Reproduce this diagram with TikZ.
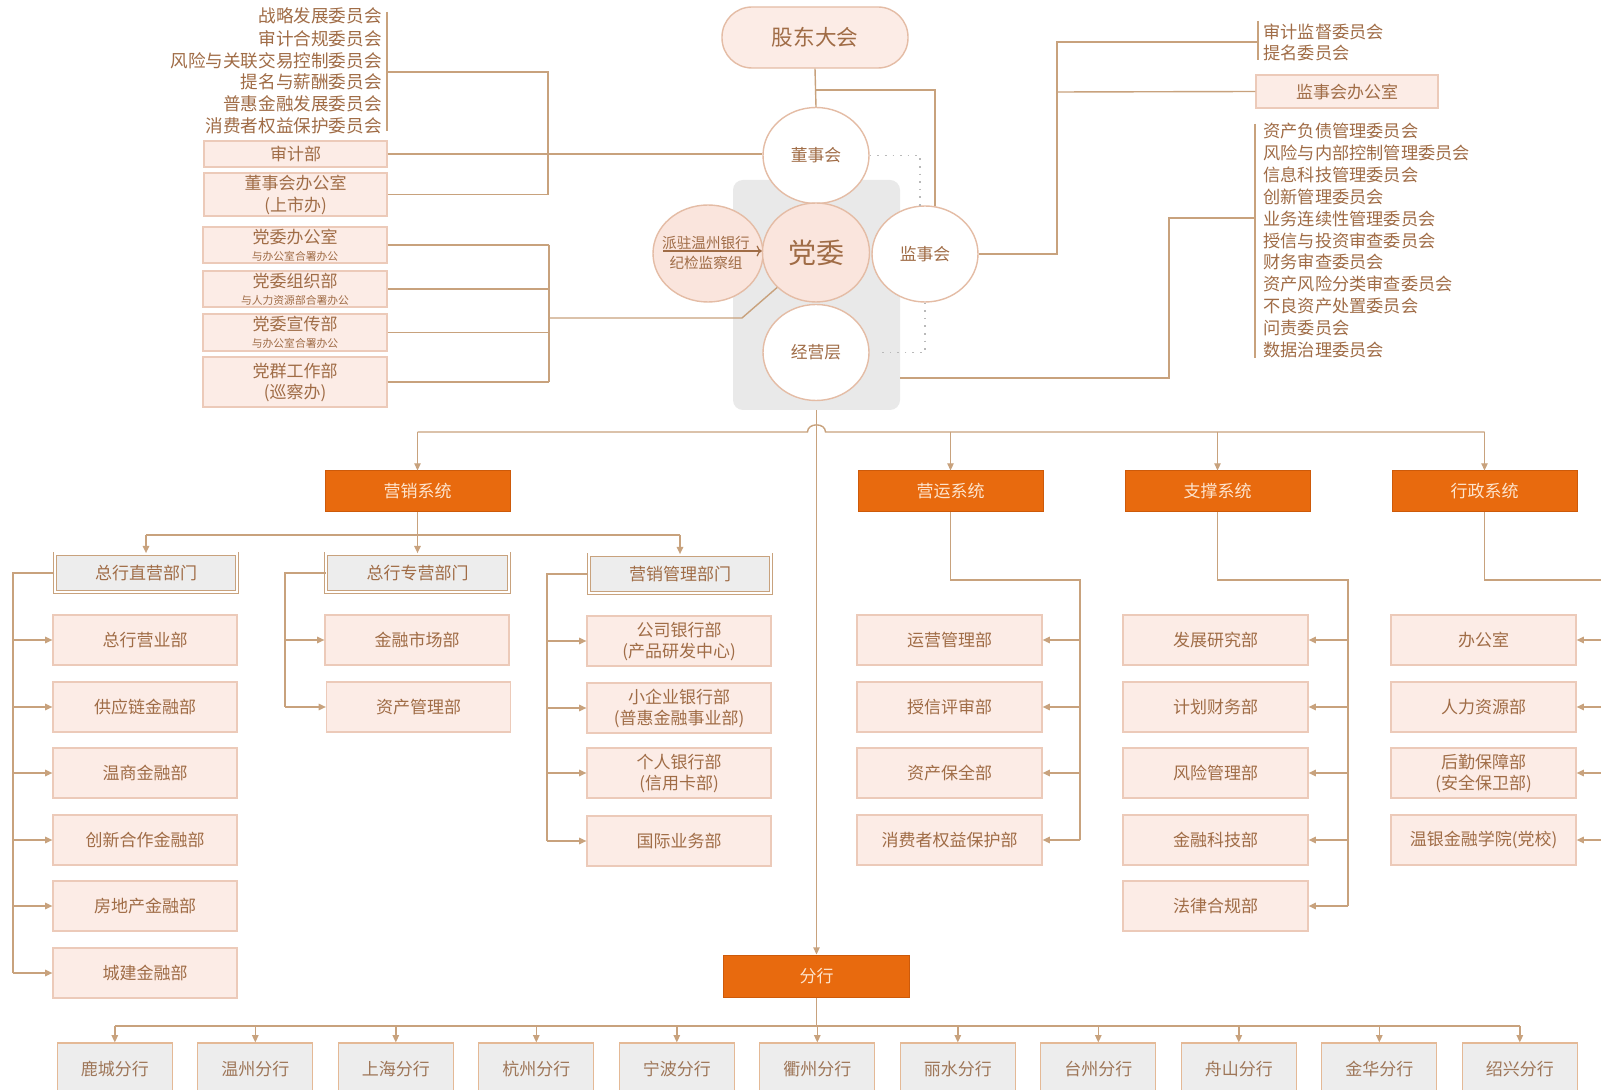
\documentclass[tikz,border=0pt]{standalone}
\usepackage{fontspec}
\setmainfont{Noto Sans CJK SC}
\usetikzlibrary{shapes.geometric,arrows.meta}
\definecolor{lineC}{RGB}{200,162,125}
\definecolor{txtC}{RGB}{160,108,70}
\definecolor{boxF}{RGB}{252,236,230}
\definecolor{boxB}{RGB}{236,202,185}
\definecolor{pinkF}{RGB}{250,229,221}
\definecolor{cirB}{RGB}{228,188,165}
\definecolor{grayR}{RGB}{233,233,233}
\definecolor{grayF}{RGB}{237,237,237}
\definecolor{orgF}{RGB}{232,106,14}
\definecolor{orgD}{RGB}{205,90,10}
\definecolor{orgT}{RGB}{253,228,205}
\definecolor{dotC}{RGB}{185,185,185}
\definecolor{brT}{RGB}{158,118,88}
\definecolor{brB}{RGB}{228,185,150}
\newcommand\fz[2]{\fontsize{#1pt}{#2pt}\selectfont}
\begin{document}
\begin{tikzpicture}[x=0.5pt,y=-0.5pt,
 ln/.style={draw=lineC,line width=0.7pt},
 arr/.style={ln,-{Triangle[length=3.6pt,width=3.2pt]}},
 dotl/.style={draw=dotC,line width=0.8pt,dash pattern=on 0.8pt off 3pt},
 ltxt/.style={inner sep=0pt,text=txtC,font=\fz{8.8}{10},anchor=east},
 rtxt/.style={inner sep=0pt,text=txtC,font=\fz{8.6}{10},anchor=west},
 pbox/.style={rectangle,draw=boxB,fill=boxF,line width=0.6pt,text=txtC,align=center,inner sep=0pt,font=\fz{8.5}{10.5},minimum width=92pt},
 circ/.style={ellipse,draw=cirB,fill=white,line width=0.7pt,inner sep=0pt,text=txtC,minimum width=53pt,minimum height=48pt,font=\fz{8.4}{10},align=center},
 sysb/.style={rectangle,fill=orgF,draw=orgD,line width=0.5pt,text=orgT,inner sep=0pt,minimum width=92.5pt,minimum height=20.5pt,font=\fz{8.5}{10}},
 catb/.style={rectangle,draw=lineC,line width=0.45pt,double=white,double distance=1.1pt,fill=grayF,text=txtC,inner sep=0pt,minimum width=91.2pt,minimum height=19.4pt,font=\fz{8.5}{10}},
 brbox/.style={rectangle,draw=brB,fill=grayF,line width=0.6pt,text=brT,inner sep=0pt,minimum width=57.5pt,minimum height=26pt,font=\fz{8.5}{10}},
]
\path[use as bounding box] (0,0) rectangle (1601,1090);
\fill[white] (0,0) rectangle (1601,1090);
\begin{scope}
\clip (0,0) rectangle (1601,1090);

% ---------- top-left committees ----------
\foreach \t/\y [count=\i] in {战略发展委员会/16,审计合规委员会/39,风险与关联交易控制委员会/61,提名与薪酬委员会/82,普惠金融发展委员会/104,消费者权益保护委员会/126}
  \node[ltxt] (lc\i) at (382,\y) {\t};
\coordinate (lbT) at (387,12);
\coordinate (lbB) at (387,131);
\coordinate (lbM) at (387,72);
\draw[ln] (lbT) -- (lbB);

\node[pbox,minimum width=91.5pt,minimum height=13pt] (sjb) at (295.5,154) {审计部};
\node[pbox,minimum width=91.5pt,minimum height=21.5pt,font=\fz{8.5}{11}] (dsbgs) at (295.5,194.5) {董事会办公室\\(上市办)};

\node[pbox,minimum height=18pt] (dw1) at (295,245) {党委办公室\\[-2pt]{\fz{5.4}{6}与办公室合署办公}};
\node[pbox,minimum height=18pt] (dw2) at (295,289) {党委组织部\\[-2pt]{\fz{5.4}{6}与人力资源部合署办公}};
\node[pbox,minimum height=18.5pt] (dw3) at (295,332.5) {党委宣传部\\[-2pt]{\fz{5.4}{6}与办公室合署办公}};
\node[pbox,minimum height=25pt] (dw4) at (295,382) {党群工作部\\(巡察办)};

% ---------- centre ----------
\node[rectangle,rounded corners=5pt,fill=grayR,minimum width=83.5pt,minimum height=115pt,inner sep=0pt] (grp) at (816.5,295) {};
\node[rectangle,rounded corners=15pt,draw=cirB,fill=boxF,line width=0.7pt,minimum width=93pt,minimum height=30.5pt,font=\fz{10.8}{12},text=txtC,inner sep=0pt] (gd) at (815,37.5) {股东大会};
\node[circ] (dsh) at (816,155.5) {董事会};
\node[circ,fill=pinkF,minimum width=55pt,minimum height=48.5pt] (pz) at (708,253.5) {};
\node[inner sep=0pt,text=txtC,font=\fz{7.3}{10},align=center] (pzt) at (706,252.5) {派驻温州银行\\纪检监察组};
\node[circ,fill=pinkF,minimum width=53.5pt,minimum height=49.5pt,font=\fz{14}{16}] (dw) at (816,252.5) {党委};
\node[circ] (jsh) at (925,254) {监事会};
\node[circ] (jyc) at (816,352.5) {经营层};

\coordinate (pzA) at (663,251);
\draw[draw=txtC,line width=0.6pt,-{To[length=2.6pt]}] (pzA) -- (pzA -| dw.west);

% ---------- right committees ----------
\coordinate (rbT) at (1258,21);
\coordinate (rbB) at (1258,60);
\coordinate (rbM) at (1258,42);
\draw[ln] (rbT) -- (rbB);
\node[rtxt] (rc1) at (1263,32) {审计监督委员会};
\node[rtxt] (rc2) at (1263,53) {提名委员会};
\node[pbox,minimum width=91pt,minimum height=16.5pt] (jsbgs) at (1347,91.5) {监事会办公室};

\coordinate (rb2T) at (1255,124);
\coordinate (rb2B) at (1255,358);
\coordinate (rb2M) at (1255,218);
\draw[ln] (rb2T) -- (rb2B);
\foreach \t [count=\i] in {资产负债管理委员会,风险与内部控制管理委员会,信息科技管理委员会,创新管理委员会,业务连续性管理委员会,授信与投资审查委员会,财务审查委员会,资产风险分类审查委员会,不良资产处置委员会,问责委员会,数据治理委员会}
  \node[rtxt] (mc\i) at (1263,{131+21.9*(\i-1)}) {\t};

% ---------- top connectors ----------
\draw[ln] (lbM) -- (548,72) -- (548,194.5) -- (dsbgs.east);
\draw[ln] (sjb.east) -- (sjb.east -| dsh.west);
\coordinate (PX) at (549,0);
\foreach \n in {dw1,dw2,dw3,dw4} \draw[ln] (\n.east) -- (PX |- \n.east);
\draw[ln] (PX |- dw1.east) -- (PX |- dw4.east);
\draw[ln] (549,318) -- (742,318) -- (dw.222);

\draw[ln] (gd.south) -- (dsh.north);
\draw[ln] (gd.south |- 0,90) -| (jsh.78);
\draw[dotl] (dsh.east) -| (jsh.96);
\draw[dotl,shorten >=6pt] (jsh.south) |- (jyc.east);
\draw[ln] (jsh.east) -| (1057,42) -- (rbM);
\draw[ln] (1057,92) -- (jsbgs.west);
\draw[ln] (grp.east |- 0,378) -| (1169,218) -- (rb2M);

% ---------- systems ----------
\coordinate (bus) at (0,432);
\node[sysb] (yx) at (417.5,491.5) {营销系统};
\node[sysb] (yy) at (950.5,491.5) {营运系统};
\node[sysb] (zc) at (1217.5,491.5) {支撑系统};
\node[sysb] (xz) at (1484.5,491.5) {行政系统};
\draw[ln] (yx.north |- bus) -- (807.5,432) .. controls (807.5,422.5) and (825.5,422.5) .. (825.5,432) -- (xz.north |- bus);
\foreach \n in {yx,yy,zc,xz} \draw[arr] (\n.north |- bus) -- (\n.north);

\node[sysb,minimum width=93pt,minimum height=21pt] (fh) at (816.5,976) {分行};
\draw[arr] (grp.south) -- (fh.north);

% ---------- marketing ----------
\coordinate (sb) at (0,535);
\node[catb] (c1) at (146,573) {总行直营部门};
\node[catb] (c2) at (417.5,573) {总行专营部门};
\node[catb] (c3) at (680,574) {营销管理部门};
\draw[ln] (yx.south) -- (yx.south |- sb);
\draw[ln] (c1.north |- sb) -- (c3.north |- sb);
\foreach \n in {c1,c2,c3} \draw[arr] (\n.north |- sb) -- (\n.north);

\foreach \t/\y [count=\i] in {总行营业部/640,供应链金融部/707,温商金融部/773,创新合作金融部/840,房地产金融部/906,城建金融部/973}
  \node[pbox,minimum height=25pt] (a\i) at (145,\y) {\t};
\node[pbox,minimum height=25pt] (b1) at (417,640) {金融市场部};
\node[pbox,minimum height=25pt] (b2) at (418.5,707) {资产管理部};
\node[pbox,minimum height=25pt] (d1) at (679,641) {公司银行部\\(产品研发中心)};
\node[pbox,minimum height=25pt] (d2) at (679,708) {小企业银行部\\(普惠金融事业部)};
\node[pbox,minimum height=25pt] (d3) at (679,773) {个人银行部\\(信用卡部)};
\node[pbox,minimum height=25pt] (d4) at (679,841) {国际业务部};

\coordinate (L1) at (13,0);
\coordinate (L2) at (285,0);
\coordinate (L3) at (547,0);
\draw[ln] (c1.west) -- (L1 |- c1.west) -- (L1 |- a6.west);
\foreach \i in {1,...,6} \draw[arr] (L1 |- a\i.west) -- (a\i.west);
\draw[ln] (c2.west) -- (L2 |- c2.west) -- (L2 |- b2.west);
\foreach \i in {1,2} \draw[arr] (L2 |- b\i.west) -- (b\i.west);
\draw[ln] (c3.west) -- (L3 |- c3.west) -- (L3 |- d4.west);
\foreach \i in {1,...,4} \draw[arr] (L3 |- d\i.west) -- (d\i.west);

% ---------- right columns ----------
\coordinate (rb) at (0,580);
\foreach \t/\y [count=\i] in {运营管理部/640,授信评审部/707,资产保全部/773,消费者权益保护部/840}
  \node[pbox,minimum width=92.5pt,minimum height=25pt] (e\i) at (949.5,\y) {\t};
\foreach \t/\y [count=\i] in {发展研究部/640,计划财务部/707,风险管理部/773,金融科技部/840,法律合规部/906}
  \node[pbox,minimum width=92.5pt,minimum height=25pt] (f\i) at (1215.5,\y) {\t};
\node[pbox,minimum width=92.5pt,minimum height=25pt] (g1) at (1483.5,640) {办公室};
\node[pbox,minimum width=92.5pt,minimum height=25pt] (g2) at (1483.5,707) {人力资源部};
\node[pbox,minimum width=92.5pt,minimum height=25pt] (g3) at (1483.5,773) {后勤保障部\\(安全保卫部)};
\node[pbox,minimum width=92.5pt,minimum height=25pt] (g4) at (1483.5,840) {温银金融学院(党校)};

\coordinate (R1) at (1080,0);
\coordinate (R2) at (1348,0);
\coordinate (R3) at (1640,0);
\draw[ln] (yy.south) -- (yy.south |- rb) -- (R1 |- rb) -- (R1 |- e4.east);
\foreach \i in {1,...,4} \draw[arr] (R1 |- e\i.east) -- (e\i.east);
\draw[ln] (zc.south) -- (zc.south |- rb) -- (R2 |- rb) -- (R2 |- f5.east);
\foreach \i in {1,...,5} \draw[arr] (R2 |- f\i.east) -- (f\i.east);
\draw[ln] (xz.south) -- (xz.south |- rb) -- (R3 |- rb) -- (R3 |- g4.east);
\foreach \i in {1,...,4} \draw[arr] (R3 |- g\i.east) -- (g\i.east);

% ---------- branches ----------
\coordinate (bb) at (0,1026);
\foreach \t [count=\i] in {鹿城分行,温州分行,上海分行,杭州分行,宁波分行,衢州分行,丽水分行,台州分行,舟山分行,金华分行,绍兴分行}
  \node[brbox] (br\i) at ({114.8+140.5*(\i-1)},1069) {\t};
\draw[ln] (fh.south) -- (fh.south |- bb);
\draw[ln] (br1.north |- bb) -- (br11.north |- bb);
\foreach \i in {1,...,11} \draw[arr] (br\i.north |- bb) -- (br\i.north);
\end{scope}
\end{tikzpicture}
\end{document}
